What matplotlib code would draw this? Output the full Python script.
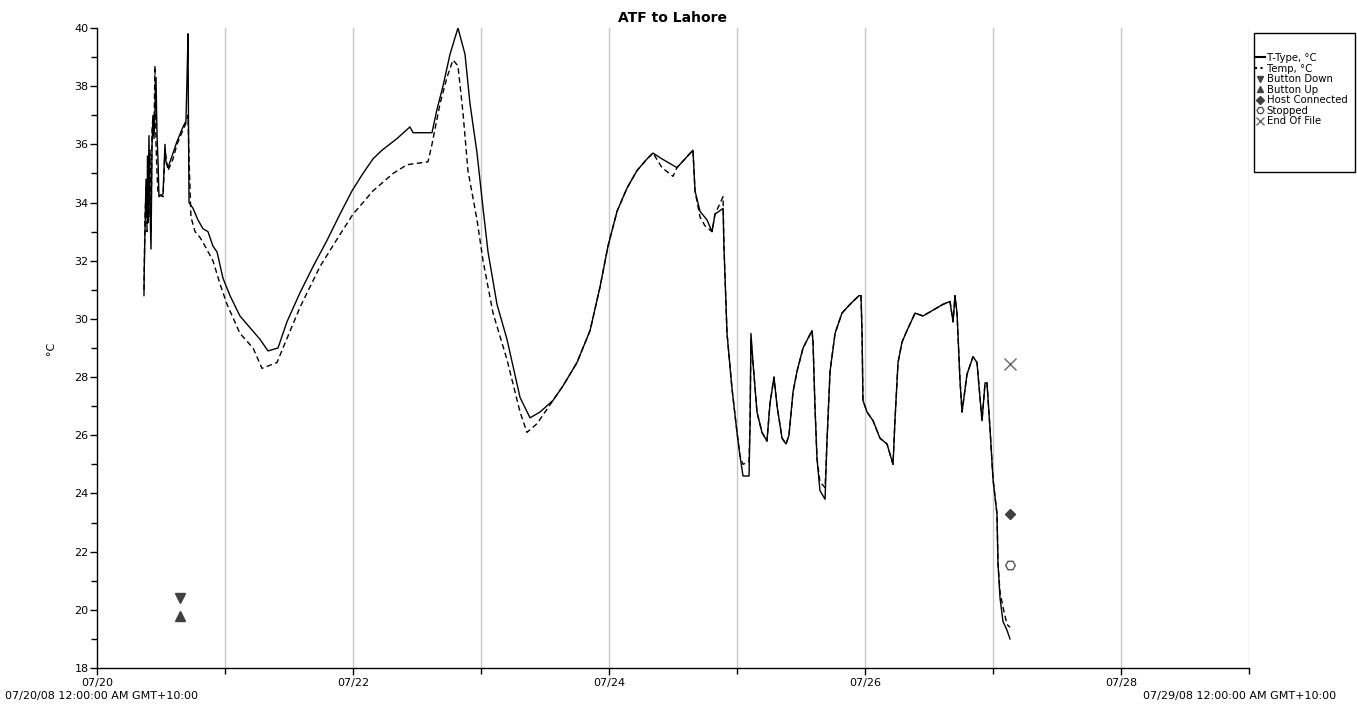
import matplotlib
matplotlib.use("Agg")
import matplotlib.pyplot as plt
from matplotlib.lines import Line2D
from matplotlib.patches import Rectangle
from matplotlib.ticker import MultipleLocator, FixedLocator

plt.rcParams['font.family'] = ['DejaVu Sans']

# ---- data (x = days since 07/20/08 00:00) ----
ttype_day = [0.367, 0.369, 0.375, 0.383, 0.391, 0.395, 0.398, 0.406, 0.414, 0.422, 0.430, 0.438,
             0.445, 0.453, 0.461, 0.469, 0.477, 0.484, 0.516, 0.531, 0.539, 0.555, 0.594, 0.625,
             0.672, 0.695, 0.703, 0.711, 0.715, 0.719, 0.750, 0.789, 0.828, 0.867, 0.906, 0.938,
             0.984, 1.039, 1.117, 1.195, 1.273, 1.336, 1.414, 1.484, 1.586, 1.688, 1.797, 1.898,
             1.992, 2.078, 2.156, 2.227, 2.344, 2.445, 2.469, 2.617, 2.656, 2.703, 2.758, 2.820,
             2.875, 2.914, 2.969, 3.016, 3.055, 3.125, 3.203, 3.305, 3.383, 3.461, 3.563, 3.641,
             3.750, 3.852, 3.930, 3.992, 4.063, 4.141, 4.219, 4.297, 4.344, 4.414, 4.531, 4.656,
             4.672, 4.711, 4.766, 4.805, 4.828, 4.891, 4.898, 4.922, 4.961, 5.000, 5.023, 5.047,
             5.094, 5.102, 5.109, 5.125, 5.156, 5.195, 5.234, 5.258, 5.289, 5.313, 5.352, 5.383,
             5.406, 5.438, 5.469, 5.516, 5.586, 5.594, 5.609, 5.625, 5.648, 5.688, 5.703, 5.727,
             5.766, 5.820, 5.883, 5.953, 5.969, 5.977, 5.984, 6.016, 6.063, 6.117, 6.172, 6.219,
             6.234, 6.258, 6.289, 6.328, 6.391, 6.453, 6.531, 6.609, 6.664, 6.688, 6.703, 6.719,
             6.742, 6.758, 6.797, 6.844, 6.875, 6.914, 6.938, 6.953, 6.977, 7.000, 7.031, 7.039,
             7.055, 7.078, 7.109, 7.133]
ttype_val = [30.8, 31.7, 33.0, 34.8, 33.5, 35.6, 33.3, 36.3, 33.8, 32.4, 36.0, 37.0,
             36.2, 37.1, 38.3, 36.3, 35.4, 34.2, 34.3, 36.0, 35.4, 35.2, 35.7, 36.1,
             36.6, 36.8, 38.2, 39.8, 36.5, 34.0, 33.8, 33.4, 33.1, 33.0, 32.5, 32.3,
             31.4, 30.8, 30.1, 29.7, 29.3, 28.9, 29.0, 29.9, 30.9, 31.8, 32.7, 33.6,
             34.4, 35.0, 35.5, 35.8, 36.2, 36.6, 36.4, 36.4, 37.2, 38.0, 39.1, 40.0,
             39.1, 37.4, 35.7, 33.8, 32.3, 30.5, 29.3, 27.3, 26.6, 26.8, 27.2, 27.7,
             28.5, 29.6, 31.1, 32.5, 33.7, 34.5, 35.1, 35.5, 35.7, 35.5, 35.2, 35.8,
             34.4, 33.7, 33.4, 33.0, 33.6, 33.8, 32.5, 29.5, 27.6, 26.1, 25.3, 24.6,
             24.6, 26.4, 29.5, 28.5, 26.8, 26.1, 25.8, 27.1, 28.0, 27.0, 25.9, 25.7,
             26.0, 27.5, 28.2, 29.0, 29.6, 29.2, 27.0, 25.2, 24.1, 23.8, 25.8, 28.2,
             29.5, 30.2, 30.5, 30.8, 30.8, 29.5, 27.2, 26.8, 26.5, 25.9, 25.7, 25.0,
             26.5, 28.5, 29.2, 29.6, 30.2, 30.1, 30.3, 30.5, 30.6, 29.9, 30.8, 30.2,
             27.9, 26.8, 28.1, 28.7, 28.5, 26.5, 27.8, 27.8, 26.2, 24.5, 23.3, 21.6,
             20.4, 19.6, 19.3, 19.0]

temp_day = [0.367, 0.375, 0.383, 0.391, 0.398, 0.406, 0.414, 0.422, 0.430, 0.438, 0.445, 0.453,
            0.461, 0.469, 0.477, 0.516, 0.531, 0.555, 0.594, 0.625, 0.672, 0.703, 0.711, 0.719,
            0.734, 0.766, 0.805, 0.844, 0.906, 0.961, 1.016, 1.117, 1.219, 1.289, 1.406, 1.453,
            1.586, 1.742, 1.898, 2.000, 2.156, 2.313, 2.422, 2.586, 2.617, 2.680, 2.734, 2.781,
            2.820, 2.859, 2.898, 2.969, 3.016, 3.094, 3.203, 3.305, 3.359, 3.438, 3.516, 3.563,
            3.641, 3.750, 3.852, 3.930, 3.992, 4.063, 4.141, 4.219, 4.297, 4.344, 4.414, 4.500,
            4.531, 4.656, 4.672, 4.711, 4.750, 4.805, 4.828, 4.891, 4.898, 4.922, 4.961, 5.000,
            5.023, 5.047, 5.094, 5.102, 5.109, 5.125, 5.156, 5.195, 5.234, 5.258, 5.289, 5.313,
            5.352, 5.383, 5.406, 5.438, 5.469, 5.516, 5.586, 5.594, 5.609, 5.625, 5.648, 5.688,
            5.703, 5.727, 5.766, 5.820, 5.883, 5.953, 5.969, 5.977, 5.984, 6.016, 6.063, 6.117,
            6.172, 6.219, 6.234, 6.258, 6.289, 6.328, 6.391, 6.453, 6.531, 6.609, 6.664, 6.688,
            6.703, 6.719, 6.742, 6.758, 6.797, 6.844, 6.875, 6.914, 6.938, 6.953, 6.977, 7.000,
            7.031, 7.039, 7.055, 7.078, 7.109, 7.133]
temp_val = [31.0, 33.5, 34.5, 33.0, 35.5, 33.5, 35.8, 33.0, 36.5, 37.0, 36.5, 38.7,
            36.0, 35.0, 34.3, 34.2, 35.8, 35.1, 35.5, 36.0, 36.5, 36.8, 37.0, 35.5,
            33.5, 33.0, 32.8, 32.5, 32.0, 31.2, 30.5, 29.5, 29.0, 28.3, 28.5, 29.0,
            30.4, 31.8, 32.9, 33.6, 34.4, 35.0, 35.3, 35.4, 36.0, 37.4, 38.3, 38.9,
            38.7, 37.1, 35.1, 33.4, 32.0, 30.2, 28.6, 26.8, 26.1, 26.4, 26.9, 27.2,
            27.7, 28.5, 29.6, 31.1, 32.5, 33.7, 34.5, 35.1, 35.5, 35.7, 35.2, 34.9,
            35.2, 35.8, 34.4, 33.5, 33.2, 33.0, 33.6, 34.2, 32.5, 29.5, 27.6, 26.1,
            25.3, 25.0, 25.1, 26.4, 29.3, 28.5, 26.8, 26.1, 25.8, 27.1, 28.0, 27.0,
            25.9, 25.7, 26.0, 27.5, 28.2, 29.0, 29.6, 29.2, 27.0, 25.2, 24.4, 24.2,
            25.8, 28.2, 29.5, 30.2, 30.5, 30.8, 30.8, 29.5, 27.2, 26.8, 26.5, 25.9,
            25.7, 25.0, 26.5, 28.5, 29.2, 29.6, 30.2, 30.1, 30.3, 30.5, 30.6, 29.9,
            30.8, 30.2, 27.9, 26.8, 28.1, 28.7, 28.5, 26.5, 27.8, 27.8, 26.2, 24.5,
            23.3, 21.6, 20.6, 20.1, 19.5, 19.4]

event_names = ['Button Down', 'Button Up', 'Host Connected', 'Stopped', 'End Of File']
event_day = [0.65, 0.65, 7.13, 7.13, 7.13]
event_val = [20.4, 19.8, 23.3, 21.55, 28.45]

major_days = [0, 2, 4, 6, 8]
major_labels = ['07/20', '07/22', '07/24', '07/26', '07/28']
start_label = '07/20/08 12:00:00 AM GMT+10:00'
end_label = '07/29/08 12:00:00 AM GMT+10:00'

# ---- figure ----
W, H = 1357, 704
fig = plt.figure(figsize=(W / 100, H / 100), dpi=100)
ax = fig.add_axes([97 / W, 1 - 668 / H, (1249 - 97) / W, (668 - 28) / H])

ax.set_xlim(0, 9)
ax.set_ylim(18, 40)

for d in range(1, 10):
    ax.axvline(d, color='#c8c8c8', lw=1.0, zorder=0)

ax.plot(ttype_day, ttype_val, color='black', lw=1.0, zorder=3)
ax.plot(temp_day, temp_val, color='black', lw=1.0, ls=(0, (4, 2.5)), zorder=2)

mk_gray = '#404040'
ax.plot(event_day[0], event_val[0], marker='v', ms=7, color=mk_gray, ls='none', zorder=4)
ax.plot(event_day[1], event_val[1], marker='^', ms=7, color=mk_gray, ls='none', zorder=4)
ax.plot(event_day[2], event_val[2], marker='D', ms=5.5, color=mk_gray, ls='none', zorder=4)
ax.plot(event_day[3], event_val[3], marker='H', ms=7, mfc='white', mec='#555555', mew=1.0,
        ls='none', zorder=4)
ax.plot(event_day[4], event_val[4], marker='x', ms=8, color='#666666', mew=1.0, ls='none', zorder=4)

ax.spines['top'].set_visible(False)
ax.spines['right'].set_visible(False)
ax.spines['left'].set_linewidth(1.0)
ax.spines['bottom'].set_linewidth(1.0)

ax.xaxis.set_major_locator(FixedLocator(major_days))
ax.set_xticklabels(major_labels)
ax.xaxis.set_minor_locator(FixedLocator([1, 3, 5, 7, 9]))
ax.yaxis.set_major_locator(MultipleLocator(2))
ax.yaxis.set_minor_locator(MultipleLocator(1))
ax.tick_params(axis='both', which='major', labelsize=8, length=5, width=1, pad=1)
ax.tick_params(axis='x', which='major', pad=2)
ax.tick_params(axis='both', which='minor', length=4, width=1)

ax.set_ylabel('°C', fontsize=8, labelpad=13)
ax.set_title('ATF to Lahore', fontsize=10, fontweight='bold', pad=4)

fig.text(5 / W, 1 - 696 / H, start_label, fontsize=8, ha='left', va='center')
fig.text(1336 / W, 1 - 696 / H, end_label, fontsize=8, ha='right', va='center')

# legend
handles = [
    Line2D([], [], color='black', lw=1.5),
    Line2D([], [], color='black', lw=1.5, ls=':'),
    Line2D([], [], marker='v', color=mk_gray, ls='none', ms=5),
    Line2D([], [], marker='^', color=mk_gray, ls='none', ms=5),
    Line2D([], [], marker='D', color=mk_gray, ls='none', ms=4),
    Line2D([], [], marker='H', mfc='white', mec='#555555', ls='none', ms=5),
    Line2D([], [], marker='x', color='#666666', ls='none', ms=6),
]
labels = ['T-Type, °C', 'Temp, °C'] + event_names
fig.patches.append(Rectangle((1254 / W, 1 - 172 / H), (1355 - 1254) / W, (172 - 33) / H,
                             transform=fig.transFigure, fill=False, edgecolor='black', lw=1.0))
fig.legend(handles, labels, loc='upper left', bbox_to_anchor=(1252 / W, 1 - 50 / H),
           frameon=False, fontsize=7.3, handlelength=1.0, handletextpad=0.15,
           labelspacing=0.05, borderpad=0.3, borderaxespad=0)

fig.savefig('out.png', dpi=100)
